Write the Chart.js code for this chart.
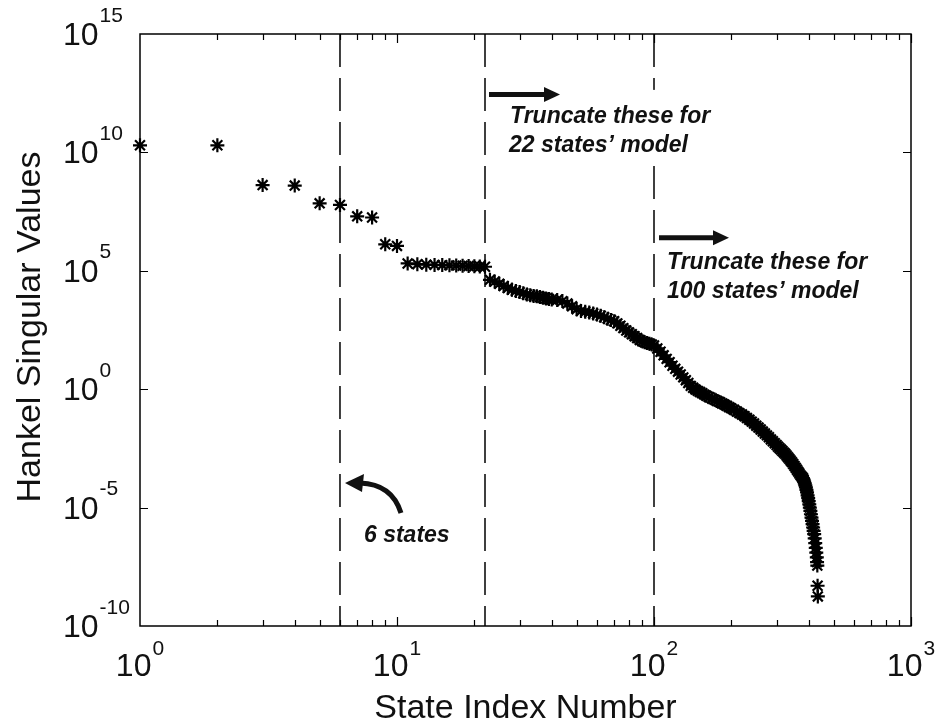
<!DOCTYPE html>
<html>
<head>
<meta charset="utf-8">
<script src="https://cdn.jsdelivr.net/npm/chart.js@4.4.0/dist/chart.umd.min.js"></script>
<style>
  html, body { margin: 0; padding: 0; background: #fff; }
  #wrap { width: 938px; height: 727px; }
</style>
</head>
<body>
<div id="wrap"><canvas id="chart" width="938" height="727"></canvas></div>
<script>
// state index of each plotted singular value
const stateIndex = [
  1, 2, 3, 4, 5, 6, 7, 8, 9, 10, 11, 12, 13, 14, 15, 16, 17, 18, 19, 20, 21, 22,
  23, 24, 25, 26, 27, 28, 29, 30, 31, 32, 33, 34, 35, 36, 37, 38, 39, 40,
  42, 44, 46, 48, 50, 52, 54, 56, 58, 60, 62, 64, 66, 68, 70, 72, 74, 76, 78, 80,
  82, 84, 86, 88, 90, 92, 94, 96, 98, 100,
  103, 106, 109, 112, 115, 118, 121, 124, 127, 130, 133, 136, 139, 142, 145, 148, 151, 154, 157, 160,
  164, 168, 172, 176, 180, 184, 188, 192, 196, 200,
  205, 210, 215, 220, 225, 230, 235, 240, 245, 250, 255, 260, 265, 270, 275, 280, 285, 290, 295, 300,
  304, 308, 312, 316, 320, 324, 328, 332, 336, 340, 344, 348, 352, 356, 360, 364, 368, 372, 376, 380,
  382, 384, 386, 388, 390, 392, 394, 396, 398, 400, 402, 404, 406, 408, 410, 412, 414, 416, 418, 420,
  422, 424, 426, 428, 430, 431, 432, 433, 434
];

// log10 of the Hankel singular values
const hsvLog10 = [
  10.3, 10.3, 8.62, 8.6, 7.85, 7.78, 7.3, 7.25, 6.12, 6.05, 5.31, 5.28, 5.26, 5.25, 5.24, 5.23, 5.22, 5.21, 5.2, 5.19, 5.18, 5.17,
  4.62, 4.55, 4.45, 4.36, 4.27, 4.2, 4.15, 4.1, 4.05, 4.0, 3.97, 3.94, 3.92, 3.89, 3.86, 3.83, 3.81, 3.79,
  3.77, 3.72, 3.62, 3.5, 3.38, 3.3, 3.27, 3.24, 3.2, 3.15, 3.1, 3.04, 2.98, 2.92, 2.87, 2.78, 2.68, 2.58, 2.48, 2.4,
  2.32, 2.24, 2.16, 2.08, 2.02, 1.98, 1.95, 1.92, 1.89, 1.85,
  1.72, 1.58, 1.43, 1.28, 1.14, 0.99, 0.86, 0.74, 0.62, 0.5, 0.38, 0.26, 0.14, 0.06, -0.01, -0.07, -0.12, -0.17, -0.23, -0.28,
  -0.34, -0.39, -0.44, -0.5, -0.54, -0.6, -0.65, -0.7, -0.76, -0.81,
  -0.87, -0.94, -1.01, -1.07, -1.14, -1.22, -1.29, -1.37, -1.45, -1.54, -1.62, -1.7, -1.79, -1.87, -1.95, -2.03, -2.12, -2.2, -2.28, -2.36,
  -2.43, -2.49, -2.55, -2.61, -2.67, -2.73, -2.8, -2.87, -2.94, -3.01, -3.08, -3.16, -3.24, -3.32, -3.4, -3.48, -3.56, -3.64, -3.7, -3.76,
  -3.82, -3.9, -3.98, -4.06, -4.15, -4.25, -4.36, -4.48, -4.6, -4.73, -4.86, -5.0, -5.14, -5.28, -5.42, -5.56, -5.7, -5.84, -5.98, -6.12,
  -6.3, -6.5, -6.7, -6.9, -7.1, -7.3, -7.45, -8.3, -8.75
];

const cutStates = [6, 22, 100];
const xDecades = [0, 1, 2, 3];
const yDecades = [-10, -5, 0, 5, 10, 15];
const xTitle = 'State Index Number';
const yTitle = 'Hankel Singular Values';

const hsvPoints = stateIndex.map((n, i) => ({ x: n, y: Math.pow(10, hsvLog10[i]) }));

const mainFont = '32px "Liberation Sans", Arial, sans-serif';
const supFont = '21px "Liberation Sans", Arial, sans-serif';
const titleFont = '34px "Liberation Sans", Arial, sans-serif';
const noteFont = 'italic bold 23px "Liberation Sans", Arial, sans-serif';

function powerLabel(ctx, left, base, supBase, exp) {
  ctx.font = mainFont;
  const w10 = ctx.measureText('10').width;
  ctx.fillText('10', left, base);
  ctx.font = supFont;
  ctx.fillText(String(exp), left + w10 + 1, supBase);
}

function arrow(ctx, x0, x1, y) {
  ctx.lineWidth = 5;
  ctx.beginPath();
  ctx.moveTo(x0, y);
  ctx.lineTo(x1 - 14, y);
  ctx.stroke();
  ctx.beginPath();
  ctx.moveTo(x1, y);
  ctx.lineTo(x1 - 16, y - 7.5);
  ctx.lineTo(x1 - 16, y + 7.5);
  ctx.closePath();
  ctx.fill();
}

const decorations = {
  id: 'decorations',
  afterDatasetsDraw(chart) {
    const { ctx, chartArea: a, scales: { x, y } } = chart;
    const py = (e) => y.getPixelForValue(Math.pow(10, e));
    ctx.save();

    // white box behind first note (hides part of the 100 line)
    const l22 = x.getPixelForValue(22);
    ctx.fillStyle = '#fff';
    ctx.fillRect(l22 + 2, py(12.64), 263, py(9.55) - py(12.64));
    ctx.fillStyle = '#111';
    ctx.strokeStyle = '#111';

    arrow(ctx, l22 + 4, l22 + 75, py(12.45));
    ctx.font = noteFont;
    ctx.textAlign = 'left';
    ctx.textBaseline = 'alphabetic';
    ctx.fillText('Truncate these for', l22 + 25, py(11.24));
    ctx.fillText('22 states\u2019 model', l22 + 24, py(10.03));

    const l100 = x.getPixelForValue(100);
    arrow(ctx, l100 + 5, l100 + 75, py(6.4));
    ctx.font = noteFont;
    ctx.fillText('Truncate these for', l100 + 13, py(5.06));
    ctx.fillText('100 states\u2019 model', l100 + 13, py(3.84));

    // curved arrow to the 6 states line
    const l6 = x.getPixelForValue(6);
    const ay = py(-4);
    ctx.lineWidth = 5;
    ctx.beginPath();
    ctx.moveTo(l6 + 61, ay + 29);
    ctx.quadraticCurveTo(l6 + 52, ay, l6 + 20, ay - 1);
    ctx.stroke();
    ctx.beginPath();
    ctx.moveTo(l6 + 5, ay - 1);
    ctx.lineTo(l6 + 24, ay - 10);
    ctx.lineTo(l6 + 22, ay + 8);
    ctx.closePath();
    ctx.fill();
    ctx.font = noteFont;
    ctx.fillText('6 states', l6 + 24, py(-6.44));

    // frame
    ctx.fillStyle = '#000';
    ctx.strokeStyle = '#000';
    ctx.lineWidth = 1.5;
    ctx.strokeRect(a.left, a.top, a.right - a.left, a.bottom - a.top);

    // inward ticks
    ctx.lineWidth = 1.2;
    ctx.beginPath();
    for (let d = 0; d < 3; d++) {
      for (let m = 2; m <= 10; m++) {
        const px = Math.round(x.getPixelForValue(m * Math.pow(10, d))) + 0.5;
        const len = m === 10 ? 9 : 6;
        ctx.moveTo(px, a.bottom);
        ctx.lineTo(px, a.bottom - len);
        ctx.moveTo(px, a.top);
        ctx.lineTo(px, a.top + len);
      }
    }
    yDecades.slice(1, -1).forEach((e) => {
      const p = Math.round(py(e)) + 0.5;
      ctx.moveTo(a.left, p);
      ctx.lineTo(a.left + 8, p);
      ctx.moveTo(a.right, p);
      ctx.lineTo(a.right - 8, p);
    });
    ctx.stroke();

    // tick labels
    ctx.fillStyle = '#111';
    ctx.textAlign = 'left';
    xDecades.forEach((e) => {
      const px = x.getPixelForValue(Math.pow(10, e));
      ctx.font = mainFont;
      const w10 = ctx.measureText('10').width;
      ctx.font = supFont;
      const ws = ctx.measureText(String(e)).width;
      powerLabel(ctx, px - (w10 + ws + 1) / 2, a.bottom + 50, a.bottom + 29, e);
    });
    yDecades.forEach((e) => {
      const p = py(e);
      powerLabel(ctx, a.left - 77, p + 11, p - 12.5, e);
    });

    // axis titles
    ctx.font = titleFont;
    ctx.textAlign = 'center';
    ctx.fillText(xTitle, (a.left + a.right) / 2, a.bottom + 92);
    ctx.save();
    ctx.translate(40, (a.top + a.bottom) / 2 - 3);
    ctx.rotate(-Math.PI / 2);
    ctx.fillText(yTitle, 0, 0);
    ctx.restore();

    ctx.restore();
  }
};

const ctx = document.getElementById('chart').getContext('2d');
new Chart(ctx, {
  type: 'scatter',
  data: {
    datasets: [
      {
        label: 'HSV',
        data: hsvPoints,
        pointStyle: 'star',
        radius: 7,
        borderWidth: 2.2,
        borderColor: '#000',
        backgroundColor: '#000',
        clip: false,
      },
      ...cutStates.map((s) => ({
        label: 'cut ' + s,
        type: 'line',
        data: [{ x: s, y: 1e15 }, { x: s, y: 1e-10 }],
        borderColor: '#000',
        borderWidth: 1.5,
        borderDash: [33, 11],
        pointRadius: 0,
        fill: false,
      })),
    ],
  },
  options: {
    responsive: false,
    animation: false,
    devicePixelRatio: 1,
    layout: { padding: { top: 34, right: 27, left: 0, bottom: 0 } },
    scales: {
      x: {
        type: 'logarithmic',
        min: 1,
        max: 1000,
        ticks: { display: false },
        grid: { display: false, drawTicks: false },
        border: { display: false },
        afterFit: (s) => { s.height = 101; },
      },
      y: {
        type: 'logarithmic',
        min: 1e-10,
        max: 1e15,
        ticks: { display: false },
        grid: { display: false, drawTicks: false },
        border: { display: false },
        afterFit: (s) => { s.width = 140; },
      },
    },
    plugins: {
      legend: { display: false },
      tooltip: { enabled: false },
    },
  },
  plugins: [decorations],
});
</script>
</body>
</html>
